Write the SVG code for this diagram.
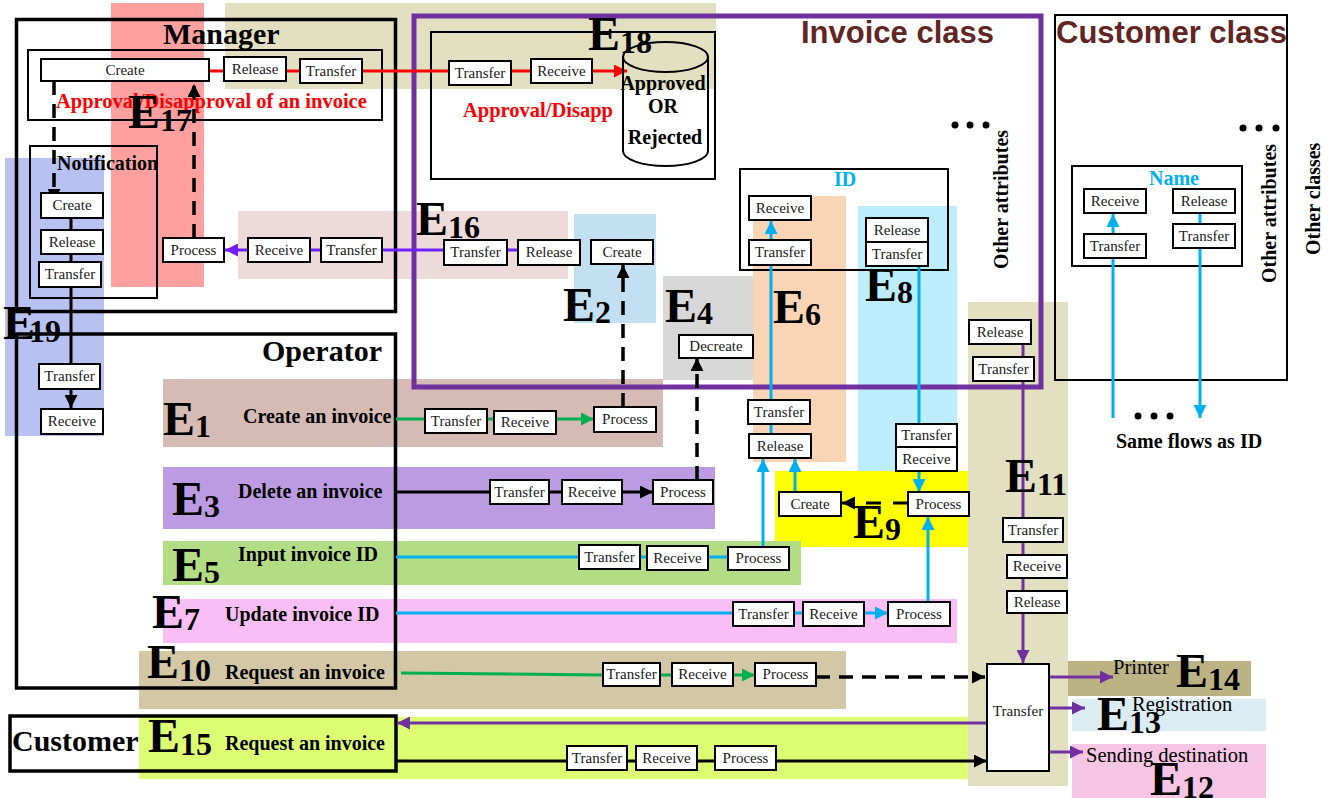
<svg xmlns="http://www.w3.org/2000/svg" width="1334" height="798" viewBox="0 0 1334 798">
<style>
.bx rect{fill:#fff;stroke:#000;stroke-width:2}
.bx text,.lt{font-family:"Liberation Serif",serif;font-size:15px;text-anchor:middle;fill:#1a1a1a}
.fr{fill:none;stroke:#000;stroke-width:2}
.fr3{fill:none;stroke:#000;stroke-width:3.5}
.ttl{font-family:"Liberation Serif",serif;font-weight:bold;font-size:30px;fill:#000}
.cls{font-family:"Liberation Sans",Arial,sans-serif;font-weight:bold;font-size:31px;fill:#632523}
.lab{font-family:"Liberation Serif",serif;font-weight:bold;font-size:20px;fill:#000}
.red{fill:#ff0000;font-size:20.5px}
.cy{fill:#00b0f0}
.reg{font-family:"Liberation Serif",serif;font-size:20.5px;fill:#000}
.E{font-family:"Liberation Serif",serif;font-weight:bold;font-size:48px;fill:#000}
.E tspan{font-size:32px}
.c{fill:none;stroke-width:3}
.k{stroke:#000}.r{stroke:#ff0000}.b{stroke:#00b0f0}.g{stroke:#00b050}.p{stroke:#7030a0}.v{stroke:#7020ff}
.d{stroke-dasharray:14 9;stroke-width:3.5}
</style>
<defs>
<marker id="mk" viewBox="0 0 10 10" refX="10" refY="5" markerWidth="15" markerHeight="13" markerUnits="userSpaceOnUse" orient="auto"><path d="M0,0L10,5L0,10z" fill="#000"/></marker>
<marker id="mr" viewBox="0 0 10 10" refX="10" refY="5" markerWidth="15" markerHeight="13" markerUnits="userSpaceOnUse" orient="auto"><path d="M0,0L10,5L0,10z" fill="#ff0000"/></marker>
<marker id="mb" viewBox="0 0 10 10" refX="10" refY="5" markerWidth="15" markerHeight="13" markerUnits="userSpaceOnUse" orient="auto"><path d="M0,0L10,5L0,10z" fill="#00b0f0"/></marker>
<marker id="mg" viewBox="0 0 10 10" refX="10" refY="5" markerWidth="15" markerHeight="13" markerUnits="userSpaceOnUse" orient="auto"><path d="M0,0L10,5L0,10z" fill="#00b050"/></marker>
<marker id="mp" viewBox="0 0 10 10" refX="10" refY="5" markerWidth="15" markerHeight="13" markerUnits="userSpaceOnUse" orient="auto"><path d="M0,0L10,5L0,10z" fill="#7030a0"/></marker>
<marker id="mv" viewBox="0 0 10 10" refX="10" refY="5" markerWidth="15" markerHeight="13" markerUnits="userSpaceOnUse" orient="auto"><path d="M0,0L10,5L0,10z" fill="#7020ff"/></marker>
</defs>
<rect width="1334" height="798" fill="#fff"/>
<g id="event-zones">
<rect x="111" y="3" width="93" height="284" fill="#ffa0a0"/>
<rect x="225" y="3" width="491" height="86" fill="#e3e0c1"/>
<rect x="5" y="158" width="99" height="278" fill="#b7c2f2"/>
<rect x="238" y="211" width="330" height="68" fill="#efdada"/>
<rect x="574" y="214" width="82" height="109" fill="#c3e0f3"/>
<rect x="663" y="276" width="92" height="104" fill="#d8d8d8"/>
<rect x="753" y="196" width="93" height="266" fill="#f9d4b5"/>
<rect x="858" y="206" width="99" height="266" fill="#bcedfc"/>
<rect x="775" y="471" width="198" height="76" fill="#ffff00"/>
<rect x="968" y="302" width="100" height="484" fill="#e3e0c1"/>
<rect x="163" y="379" width="500" height="68" fill="#d5bbb3"/>
<rect x="163" y="467" width="552" height="62" fill="#bd9be3"/>
<rect x="163" y="541" width="638" height="44" fill="#b2dd84"/>
<rect x="163" y="599" width="794" height="44" fill="#f9bef5"/>
<rect x="139" y="651" width="707" height="58" fill="#d3c7a5"/>
<rect x="139" y="717" width="829" height="62" fill="#ddfd73"/>
<rect x="1068" y="661" width="183" height="35" fill="#bcb385"/>
<rect x="1072" y="699" width="194" height="32" fill="#dbedf3"/>
<rect x="1072" y="744" width="194" height="54" fill="#f5c5e3"/>
</g>
<g id="frames">
<rect class="fr3" x="16.5" y="19.5" width="379" height="292"/>
<rect class="fr3" x="16.5" y="334" width="379" height="354"/>
<rect class="fr3" x="10" y="716" width="386" height="55"/>
<rect class="fr" x="28" y="50" width="354" height="70"/>
<rect class="fr" x="30" y="146" width="127" height="152"/>
<rect class="fr" x="431" y="32" width="284" height="147"/>
<rect class="fr" x="740" y="169" width="208" height="101"/>
<rect class="fr" x="1055" y="15" width="232" height="365"/>
<rect class="fr" x="1072" y="166" width="170" height="100"/>
<rect x="414" y="16" width="627" height="371" fill="none" stroke="#7030a0" stroke-width="5"/>
</g>
<g id="connectors">
<path class="c r" d="M209,71H627" marker-end="url(#mr)"/>
<path class="c k d" d="M54,81V202" marker-end="url(#mk)"/>
<path class="c k d" d="M194,238V84" marker-end="url(#mk)"/>
<path class="c k" d="M71,218V408" marker-end="url(#mk)"/>
<path class="c v" d="M518,250H225" marker-end="url(#mv)"/>
<path class="c k d" d="M623,407V265" marker-end="url(#mk)"/>
<path class="c k d" d="M697,480V358" marker-end="url(#mk)"/>
<path class="c g" d="M396,419H594" marker-end="url(#mg)"/>
<path class="c k" d="M396,492H653" marker-end="url(#mk)"/>
<path class="c b" d="M396,557H728"/>
<path class="c b" d="M763,547V459" marker-end="url(#mb)"/>
<path class="c b" d="M771,434V265"/>
<path class="c b" d="M771,240V221" marker-end="url(#mb)"/>
<path class="c b" d="M795,492V459" marker-end="url(#mb)"/>
<path class="c b" d="M919,266V424"/>
<path class="c b" d="M919,471V492" marker-end="url(#mb)"/>
<path class="c b" d="M396,613H888" marker-end="url(#mb)"/>
<path class="c b" d="M928,602V517" marker-end="url(#mb)"/>
<path class="c k" d="M908,503H842" stroke-dasharray="15 12" stroke-width="3.5" marker-end="url(#mk)"/>
<path class="c g" d="M401,673L603,675H755" marker-end="url(#mg)"/>
<path class="c k d" d="M816,677H985" marker-end="url(#mk)"/>
<path class="c p" d="M1023,344V663" marker-end="url(#mp)"/>
<path class="c p" d="M1049,677H1113" marker-end="url(#mp)"/>
<path class="c p" d="M1049,708H1085" marker-end="url(#mp)"/>
<path class="c p" d="M1049,752H1083" marker-end="url(#mp)"/>
<path class="c p" d="M987,723H397" marker-end="url(#mp)"/>
<path class="c k" d="M396,761H987" marker-end="url(#mk)"/>
<path class="c b" d="M1113,418V214" marker-end="url(#mb)"/>
<path class="c b" d="M1200,213V418" marker-end="url(#mb)"/>
</g>
<g class="bx">
<g id="mgr-create"><rect x="41" y="59" width="168" height="22"/><text x="125" y="75">Create</text></g>
<g id="mgr-release"><rect x="224" y="57" width="62" height="24"/><text x="255" y="74">Release</text></g>
<g id="mgr-transfer"><rect x="300" y="59" width="62" height="24"/><text x="331" y="76">Transfer</text></g>
<g id="not-create"><rect x="41" y="193" width="62" height="25"/><text x="72" y="210">Create</text></g>
<g id="not-release"><rect x="41" y="230" width="62" height="24"/><text x="72" y="247">Release</text></g>
<g id="not-transfer"><rect x="39" y="262" width="62" height="25"/><text x="70" y="279">Transfer</text></g>
<g id="e19-transfer"><rect x="39" y="364" width="61" height="25"/><text x="69.5" y="381">Transfer</text></g>
<g id="e19-receive"><rect x="41" y="409" width="62" height="25"/><text x="72" y="426">Receive</text></g>
<g id="e16-process"><rect x="163" y="238" width="61" height="24"/><text x="193.5" y="255">Process</text></g>
<g id="e16-receive"><rect x="248" y="238" width="62" height="24"/><text x="279" y="255">Receive</text></g>
<g id="e16-transfer"><rect x="321" y="238" width="61" height="24"/><text x="351.5" y="255">Transfer</text></g>
<g id="e16-transfer2"><rect x="444" y="240" width="63" height="25"/><text x="475.5" y="257">Transfer</text></g>
<g id="e16-release"><rect x="518" y="240" width="62" height="25"/><text x="549" y="257">Release</text></g>
<g id="e2-create"><rect x="591" y="240" width="62" height="24"/><text x="622" y="257">Create</text></g>
<g id="e18-transfer"><rect x="449" y="61" width="62" height="24"/><text x="480" y="78">Transfer</text></g>
<g id="e18-receive"><rect x="531" y="59" width="61" height="24"/><text x="561.5" y="76">Receive</text></g>
<g id="id-receive"><rect x="749" y="196" width="62" height="24"/><text x="780" y="213">Receive</text></g>
<g id="id-transfer"><rect x="749" y="240" width="62" height="25"/><text x="780" y="257">Transfer</text></g>
<g id="id-release"><rect x="866" y="218" width="62" height="24"/><text x="897" y="235">Release</text></g>
<g id="id-transfer2"><rect x="866" y="242" width="62" height="24"/><text x="897" y="259">Transfer</text></g>
<g id="e4-decreate"><rect x="679" y="335" width="74" height="23"/><text x="716" y="351">Decreate</text></g>
<g id="e6-transfer"><rect x="748" y="400" width="62" height="24"/><text x="779" y="417">Transfer</text></g>
<g id="e6-release"><rect x="749" y="434" width="62" height="24"/><text x="780" y="451">Release</text></g>
<g id="e8-transfer"><rect x="896" y="424" width="61" height="23"/><text x="926.5" y="440">Transfer</text></g>
<g id="e8-receive"><rect x="896" y="447" width="61" height="24"/><text x="926.5" y="464">Receive</text></g>
<g id="e9-create"><rect x="779" y="492" width="62" height="24"/><text x="810" y="509">Create</text></g>
<g id="e9-process"><rect x="908" y="492" width="61" height="24"/><text x="938.5" y="509">Process</text></g>
<g id="e11-release"><rect x="969" y="320" width="62" height="24"/><text x="1000" y="337">Release</text></g>
<g id="e11-transfer"><rect x="973" y="357" width="61" height="24"/><text x="1003.5" y="374">Transfer</text></g>
<g id="e11-transfer2"><rect x="1003" y="518" width="60" height="24"/><text x="1033" y="535">Transfer</text></g>
<g id="e11-receive"><rect x="1007" y="555" width="60" height="23"/><text x="1037" y="571">Receive</text></g>
<g id="e11-release2"><rect x="1007" y="591" width="60" height="22"/><text x="1037" y="607">Release</text></g>
<g id="big-transfer"><rect x="987" y="664" width="62" height="107"/><text x="1018" y="716">Transfer</text></g>
<g id="e1-transfer"><rect x="425" y="409" width="62" height="24"/><text x="456" y="426">Transfer</text></g>
<g id="e1-receive"><rect x="494" y="411" width="62" height="23"/><text x="525" y="427">Receive</text></g>
<g id="e1-process"><rect x="594" y="407" width="62" height="25"/><text x="625" y="424">Process</text></g>
<g id="e3-transfer"><rect x="490" y="480" width="59" height="24"/><text x="519.5" y="497">Transfer</text></g>
<g id="e3-receive"><rect x="562" y="480" width="60" height="24"/><text x="592" y="497">Receive</text></g>
<g id="e3-process"><rect x="653" y="480" width="60" height="24"/><text x="683" y="497">Process</text></g>
<g id="e5-transfer"><rect x="579" y="545" width="61" height="24"/><text x="609.5" y="562">Transfer</text></g>
<g id="e5-receive"><rect x="647" y="546" width="61" height="24"/><text x="677.5" y="563">Receive</text></g>
<g id="e5-process"><rect x="728" y="547" width="61" height="23"/><text x="758.5" y="563">Process</text></g>
<g id="e7-transfer"><rect x="733" y="602" width="61" height="24"/><text x="763.5" y="619">Transfer</text></g>
<g id="e7-receive"><rect x="803" y="602" width="61" height="24"/><text x="833.5" y="619">Receive</text></g>
<g id="e7-process"><rect x="888" y="602" width="62" height="24"/><text x="919" y="619">Process</text></g>
<g id="e10-transfer"><rect x="603" y="663" width="57" height="23"/><text x="631.5" y="679">Transfer</text></g>
<g id="e10-receive"><rect x="672" y="663" width="61" height="23"/><text x="702.5" y="679">Receive</text></g>
<g id="e10-process"><rect x="755" y="663" width="61" height="23"/><text x="785.5" y="679">Process</text></g>
<g id="e15-transfer"><rect x="567" y="746" width="60" height="24"/><text x="597" y="763">Transfer</text></g>
<g id="e15-receive"><rect x="636" y="746" width="61" height="24"/><text x="666.5" y="763">Receive</text></g>
<g id="e15-process"><rect x="715" y="746" width="61" height="24"/><text x="745.5" y="763">Process</text></g>
<g id="name-receive"><rect x="1084" y="189" width="62" height="24"/><text x="1115" y="206">Receive</text></g>
<g id="name-release"><rect x="1173" y="189" width="62" height="24"/><text x="1204" y="206">Release</text></g>
<g id="name-transfer"><rect x="1084" y="234" width="62" height="24"/><text x="1115" y="251">Transfer</text></g>
<g id="name-transfer2"><rect x="1173" y="224" width="62" height="24"/><text x="1204" y="241">Transfer</text></g>
</g>
<g id="store-approved">
<path d="M623,57V151A42.5,15 0 0 0 708,151V57" fill="none" stroke="#000" stroke-width="2"/>
<ellipse cx="665.5" cy="57" rx="42.5" ry="15" fill="none" stroke="#000" stroke-width="2"/>
<text class="lab" x="663" y="90" text-anchor="middle">Approved</text>
<text class="lab" x="663" y="113" text-anchor="middle">OR</text>
<text class="lab" x="665" y="144" text-anchor="middle">Rejected</text>
</g>
<g id="labels">
<text class="ttl" x="163" y="44">Manager</text>
<text class="ttl" x="262" y="361">Operator</text>
<text class="ttl" x="12" y="751">Customer</text>
<text class="cls" x="801" y="43">Invoice class</text>
<text class="cls" x="1056" y="43">Customer class</text>
<text class="lab red" x="56" y="108">Approval/Disapproval of an invoice</text>
<text class="lab red" x="463" y="117">Approval/Disapp</text>
<text class="lab" x="57" y="170">Notification</text>
<text class="lab cy" x="834" y="186">ID</text>
<text class="lab cy" x="1149" y="185">Name</text>
<text class="lab" x="243" y="423">Create an invoice</text>
<text class="lab" x="238" y="498">Delete an invoice</text>
<text class="lab" x="238" y="561">Input invoice ID</text>
<text class="lab" x="225" y="621">Update invoice ID</text>
<text class="lab" x="225" y="679">Request an invoice</text>
<text class="lab" x="225" y="750">Request an invoice</text>
<text class="reg" x="1113" y="674">Printer</text>
<text class="reg" x="1132" y="711">Registration</text>
<text class="reg" x="1086" y="762">Sending destination</text>
<text class="lab" x="1116" y="448">Same flows as ID</text>
<text class="lab" transform="translate(1008,269) rotate(-90)">Other attributes</text>
<text class="lab" transform="translate(1276,283) rotate(-90)">Other attributes</text>
<text class="lab" transform="translate(1320,255) rotate(-90)">Other classes</text>
<g fill="#000">
<circle cx="955" cy="125" r="3.5"/><circle cx="970" cy="125" r="3.5"/><circle cx="986" cy="125" r="3.5"/>
<circle cx="1243" cy="128" r="3.5"/><circle cx="1259" cy="128" r="3.5"/><circle cx="1276" cy="128" r="3.5"/>
<circle cx="1138" cy="416" r="3.5"/><circle cx="1154" cy="416" r="3.5"/><circle cx="1170" cy="416" r="3.5"/>
</g>
</g>
<g id="event-labels">
<text class="E" x="128" y="128">E<tspan dy="3">17</tspan></text>
<text class="E" x="588" y="50">E<tspan dy="3">18</tspan></text>
<text class="E" x="416" y="235">E<tspan dy="3">16</tspan></text>
<text class="E" x="3" y="339">E<tspan dx="-6" dy="3">19</tspan></text>
<text class="E" x="563" y="321">E<tspan dy="2">2</tspan></text>
<text class="E" x="665" y="322">E<tspan dy="2">4</tspan></text>
<text class="E" x="773" y="323">E<tspan dy="2">6</tspan></text>
<text class="E" x="865" y="301">E<tspan dy="2">8</tspan></text>
<text class="E" x="853" y="538">E<tspan dy="2">9</tspan></text>
<text class="E" x="1005" y="492">E<tspan dy="3">11</tspan></text>
<text class="E" x="163" y="435">E<tspan dy="2">1</tspan></text>
<text class="E" x="172" y="515">E<tspan dy="2">3</tspan></text>
<text class="E" x="172" y="581">E<tspan dy="2">5</tspan></text>
<text class="E" x="152" y="628">E<tspan dy="2">7</tspan></text>
<text class="E" x="147" y="678">E<tspan dy="3">10</tspan></text>
<text class="E" x="148" y="752">E<tspan dy="3">15</tspan></text>
<text class="E" x="1176" y="687">E<tspan dy="3">14</tspan></text>
<text class="E" x="1097" y="730">E<tspan dy="3">13</tspan></text>
<text class="E" x="1150" y="795">E<tspan dy="3">12</tspan></text>
</g>
</svg>
